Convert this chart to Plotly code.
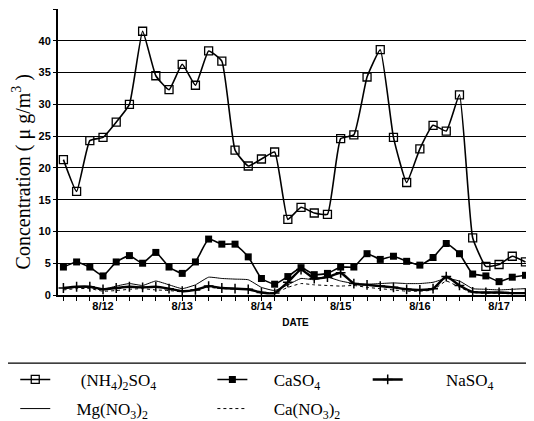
import plotly.graph_objects as go

# 4-hourly samples, index 0 = 8/11 12:00 ... index 35 = 8/17 08:00
idx = list(range(36))
tick_vals = [3, 9, 15, 21, 27, 33]
tick_text = ["8/12", "8/13", "8/14", "8/15", "8/16", "8/17"]

nh4so4 = [21.3, 16.3, 24.3, 24.8, 27.2, 30.0, 41.5, 34.5, 32.3, 36.3, 33.0, 38.4,
          36.8, 22.8, 20.3, 21.4, 22.5, 11.9, 13.8, 12.9, 12.7, 24.6, 25.2, 34.3,
          38.6, 24.8, 17.7, 23.0, 26.7, 25.8, 31.5, 9.0, 4.5, 4.8, 6.1, 5.2]
caso4 = [4.4, 5.2, 4.4, 3.0, 5.2, 6.2, 5.0, 6.7, 4.4, 3.4, 5.2, 8.8,
         8.0, 8.0, 6.0, 2.6, 1.7, 2.9, 4.3, 3.2, 3.4, 4.4, 4.4, 6.5,
         5.6, 6.1, 5.3, 4.7, 5.9, 8.1, 6.5, 3.3, 3.0, 2.1, 2.8, 3.1]
naso4 = [1.1, 1.3, 1.3, 0.9, 1.1, 1.3, 1.2, 1.3, 1.0, 0.6, 0.8, 1.4,
         1.1, 1.0, 0.9, 0.4, 0.3, 2.0, 4.0, 2.6, 2.8, 3.5, 1.8, 1.6,
         1.4, 1.2, 0.9, 0.8, 1.0, 2.9, 1.5, 0.5, 0.4, 0.4, 0.3, 0.3]
mgno3 = [1.0, 1.2, 1.2, 0.9, 1.4, 1.8, 1.5, 2.2, 1.6, 1.0, 1.6, 2.8,
         2.6, 2.5, 2.4, 1.2, 0.7, 1.6, 2.6, 2.4, 2.8, 2.2, 1.8, 1.7,
         1.8, 1.9, 1.8, 1.8, 2.0, 2.6, 2.2, 1.0, 0.9, 0.8, 0.9, 1.0]
cano3 = [0.8, 1.0, 1.0, 0.6, 0.7, 0.9, 1.0, 0.8, 0.7, 0.5, 0.9, 1.2,
         1.0, 1.0, 0.9, 0.4, 0.3, 1.2, 1.8, 1.6, 1.5, 1.4, 1.5, 1.2,
         1.0, 0.8, 0.6, 0.6, 0.8, 2.2, 1.2, 0.4, 0.3, 0.3, 0.3, 0.3]

NB = "\u00a0"
fig = go.Figure()
sp = dict(shape="spline", smoothing=0.4)
fig.add_trace(go.Scatter(x=idx, y=nh4so4, mode="lines+markers",
                         name=NB * 6 + "(NH<sub>4</sub>)<sub>2</sub>SO<sub>4</sub>",
                         line=dict(color="black", width=1.6, **sp),
                         marker=dict(symbol="square-open", size=8, color="black",
                                     line=dict(width=1.3)),
                         legend="legend", legendgroup="a"))
fig.add_trace(go.Scatter(x=idx, y=caso4, mode="lines+markers",
                         name=NB * 5 + "CaSO<sub>4</sub>",
                         line=dict(color="black", width=1.6, **sp),
                         marker=dict(symbol="square", size=7, color="black"),
                         legend="legend2", legendgroup="b"))
fig.add_trace(go.Scatter(x=idx, y=naso4, mode="lines+markers",
                         name=NB * 9 + "NaSO<sub>4</sub>",
                         line=dict(color="black", width=2.4, **sp),
                         marker=dict(symbol="cross-thin", size=7, color="black",
                                     line=dict(width=1.5, color="black")),
                         legend="legend3", legendgroup="c"))
fig.add_trace(go.Scatter(x=idx, y=mgno3, mode="lines",
                         name=NB * 5 + "Mg(NO<sub>3</sub>)<sub>2</sub>",
                         line=dict(color="black", width=1, **sp),
                         legend="legend", legendgroup="d"))
fig.add_trace(go.Scatter(x=idx, y=cano3, mode="lines",
                         name=NB * 5 + "Ca(NO<sub>3</sub>)<sub>2</sub>",
                         line=dict(color="black", width=1, dash="3px,3px", **sp),
                         legend="legend2", legendgroup="e"))

legfont = dict(family="Liberation Serif", size=17, color="black")
leg_common = dict(orientation="v", yanchor="top", y=-0.234, font=legfont,
                  bgcolor="rgba(0,0,0,0)", borderwidth=0, tracegroupgap=4,
                  traceorder="grouped")

# page body has an 8px margin, so the figure is sized/margined to compensate
fig.update_layout(
    width=526, height=413,
    margin=dict(l=50, r=1, t=1, b=126, autoexpand=False),
    paper_bgcolor="white", plot_bgcolor="white",
    showlegend=True,
    legend=dict(x=-0.09, xanchor="left", **leg_common),
    legend2=dict(x=0.325, xanchor="left", **leg_common),
    legend3=dict(x=0.652, xanchor="left", **leg_common),
    xaxis=dict(range=[-0.41, 35.57], tickmode="array", tickvals=tick_vals,
               ticktext=tick_text, ticks="outside", ticklen=4, tickwidth=1.3,
               tickcolor="black", automargin=False, ticklabelstandoff=-4,
               minor=dict(dtick=1, tick0=0, ticks="outside", ticklen=4,
                          tickwidth=1.3, tickcolor="black", showgrid=False),
               showline=True, linecolor="black", linewidth=2, showgrid=False,
               zeroline=False,
               tickfont=dict(family="Liberation Sans", size=11, color="black",
                             weight="bold"),
               title=dict(text="DATE", standoff=8,
                          font=dict(family="Liberation Sans", size=10,
                                    color="black", weight="bold"))),
    yaxis=dict(range=[0, 45], dtick=5, tick0=0, ticks="outside", ticklen=3,
               tickcolor="black", showline=True, linecolor="black", linewidth=2,
               showgrid=True, gridcolor="black", gridwidth=1.3, zeroline=False,
               automargin=False,
               tickfont=dict(family="Liberation Sans", size=11, color="black",
                             weight="bold")),
    annotations=[dict(text="Concentration ( \u03bc g/m<sup>3</sup> )",
                      textangle=-90, xref="paper", yref="paper",
                      x=-0.077, y=0.43, xanchor="center", yanchor="middle",
                      showarrow=False,
                      font=dict(family="Liberation Serif", size=20, color="black"))],
    shapes=[dict(type="rect", xref="paper", yref="paper",
                 x0=-0.116, x1=1.05, y0=-0.238, y1=-0.45,
                 line=dict(color="black", width=1.2))],
)

fig.write_html("out.html")
